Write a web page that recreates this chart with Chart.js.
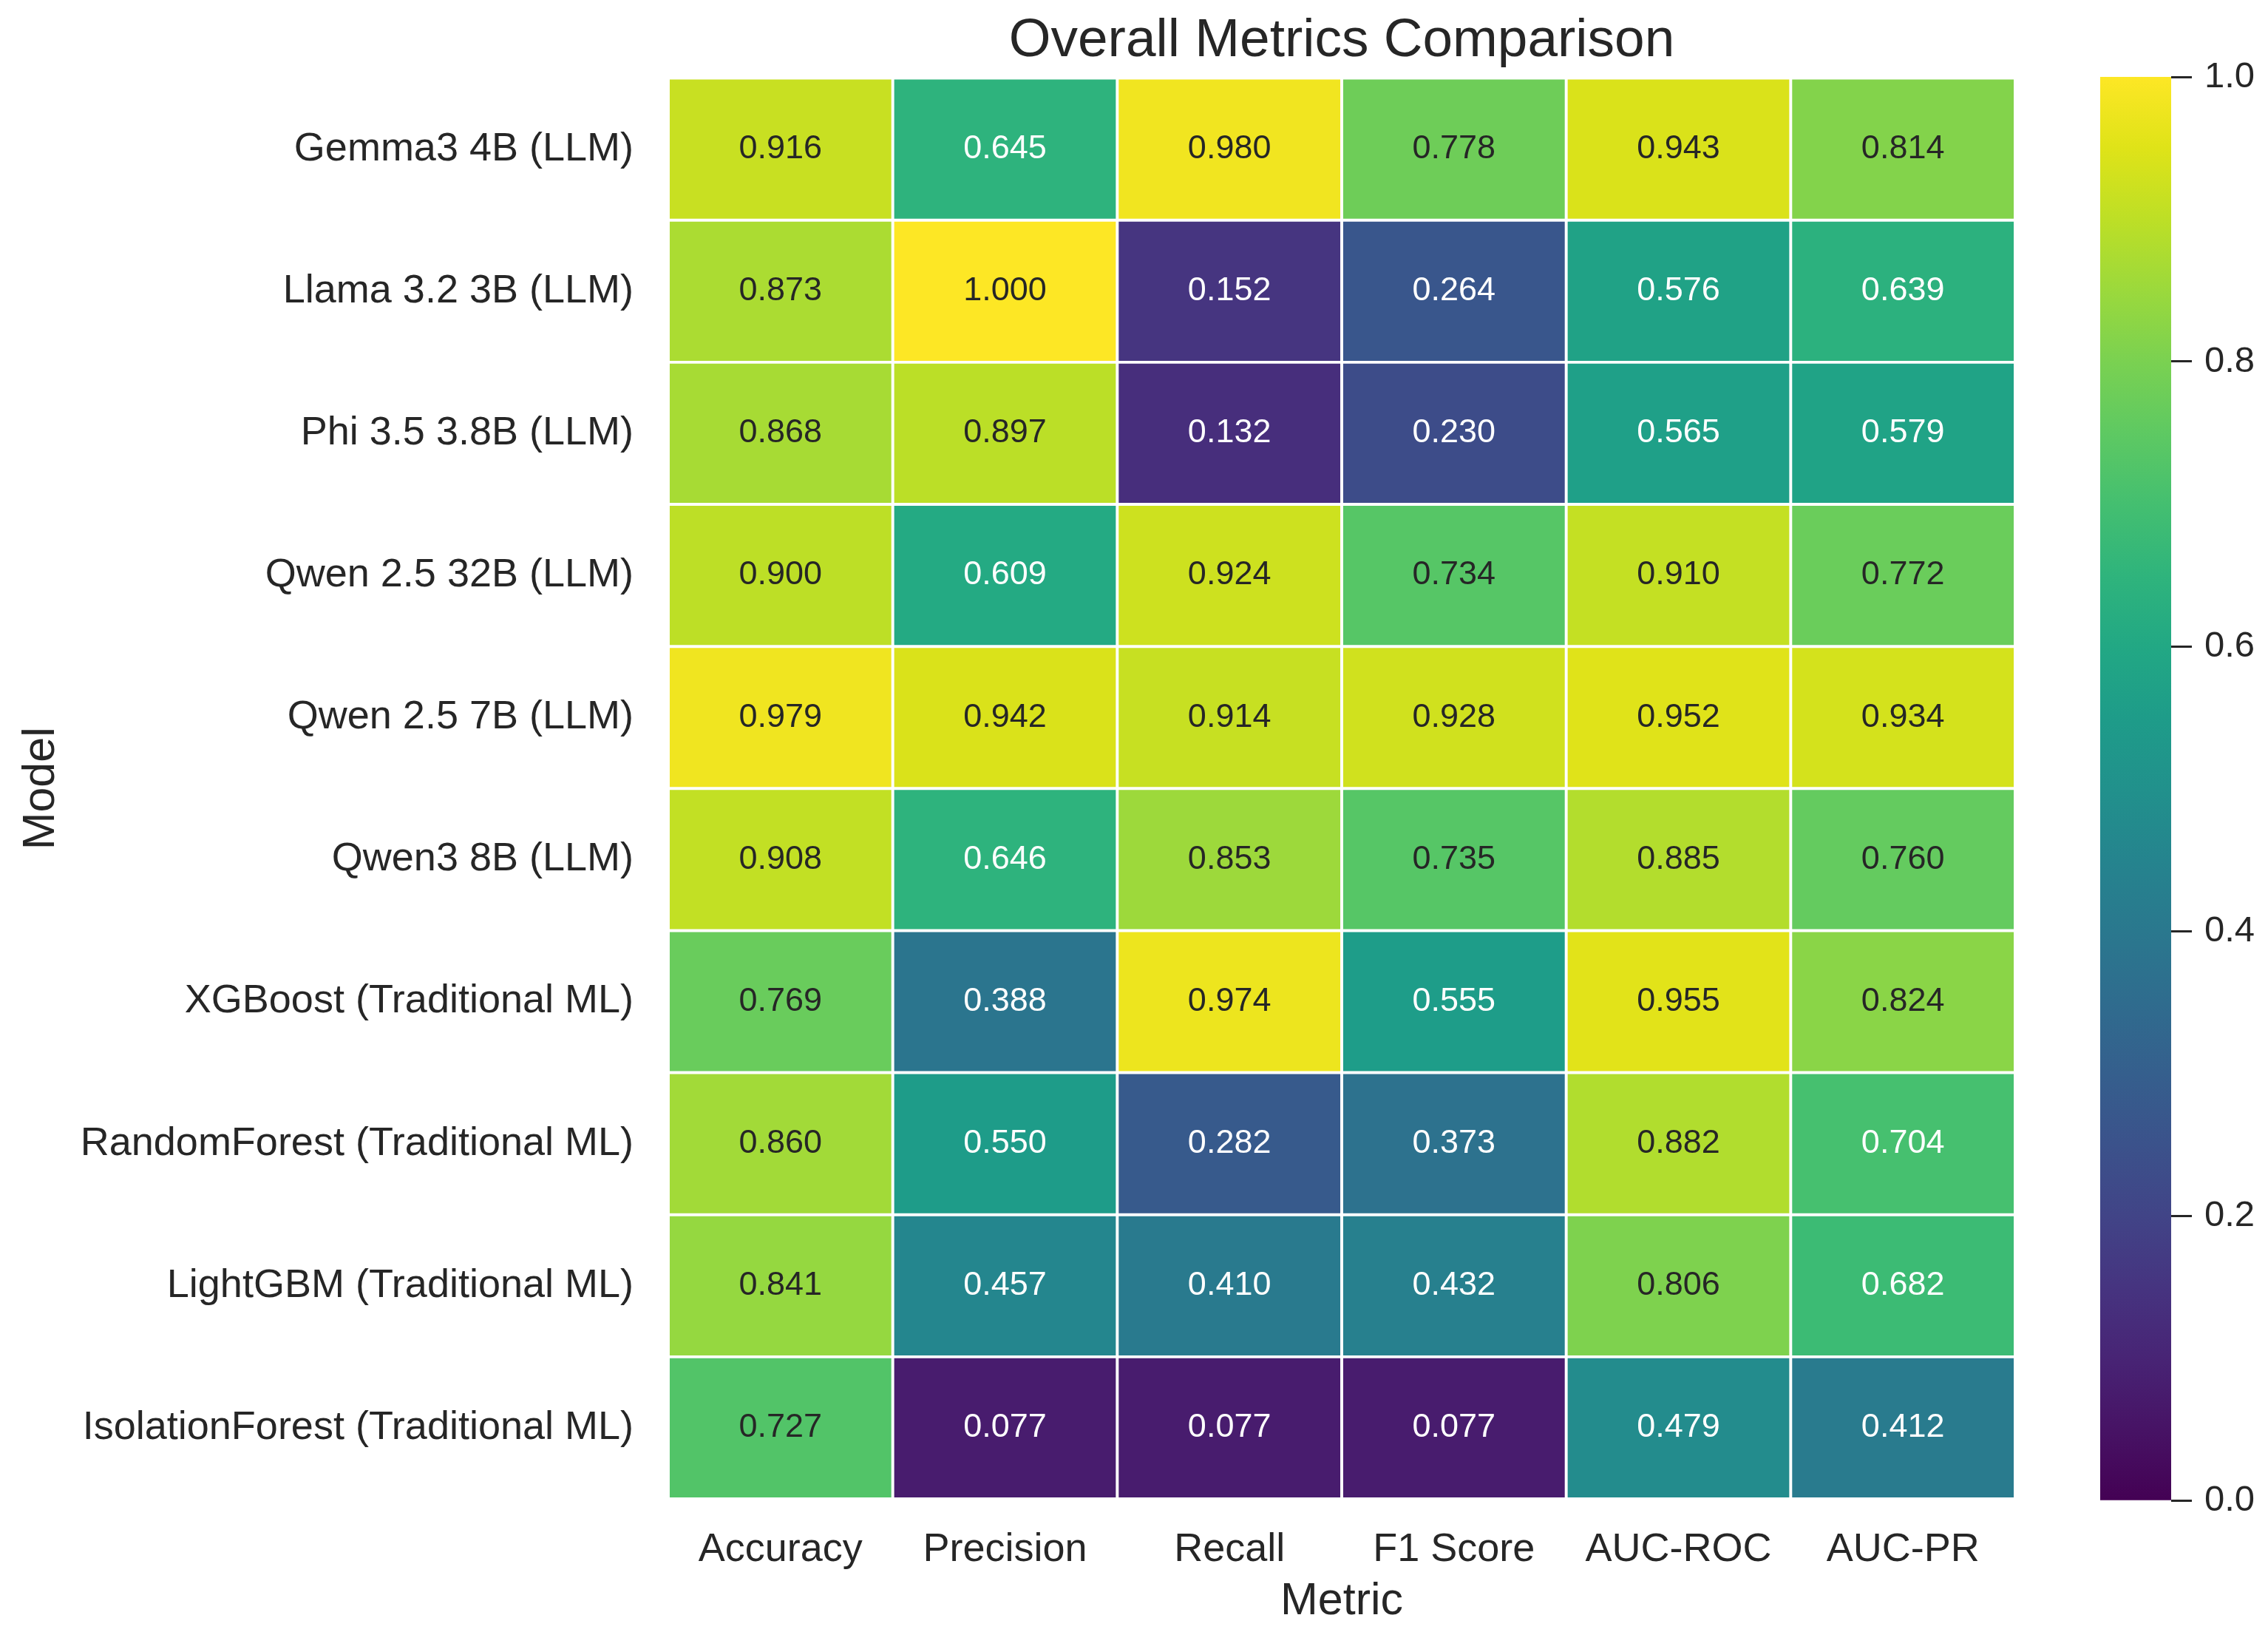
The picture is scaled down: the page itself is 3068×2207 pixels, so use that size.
<!DOCTYPE html>
<html>
<head>
<meta charset="utf-8">
<title>Overall Metrics Comparison</title>
<script src="https://cdn.jsdelivr.net/npm/chart.js@4.4.1/dist/chart.umd.min.js"></script>
<style>
  html, body { margin: 0; padding: 0; background: #ffffff; }
  #wrap { position: relative; width: 3068px; height: 2207px; }
  #heatmap { position: absolute; left: 0; top: 0; }
  #colorbar { position: absolute; left: 2760px; top: 0; }
</style>
</head>
<body>
<div id="wrap">
  <canvas id="heatmap" width="3068" height="2207"></canvas>
  <canvas id="colorbar" width="308" height="2207"></canvas>
</div>
<script>
// data
const models = [
  'Gemma3 4B (LLM)',
  'Llama 3.2 3B (LLM)',
  'Phi 3.5 3.8B (LLM)',
  'Qwen 2.5 32B (LLM)',
  'Qwen 2.5 7B (LLM)',
  'Qwen3 8B (LLM)',
  'XGBoost (Traditional ML)',
  'RandomForest (Traditional ML)',
  'LightGBM (Traditional ML)',
  'IsolationForest (Traditional ML)'
];
const metrics = ['Accuracy', 'Precision', 'Recall', 'F1 Score', 'AUC-ROC', 'AUC-PR'];

const accuracy  = [0.916, 0.873, 0.868, 0.900, 0.979, 0.908, 0.769, 0.860, 0.841, 0.727];
const precision = [0.645, 1.000, 0.897, 0.609, 0.942, 0.646, 0.388, 0.550, 0.457, 0.077];
const recall    = [0.980, 0.152, 0.132, 0.924, 0.914, 0.853, 0.974, 0.282, 0.410, 0.077];
const f1Score   = [0.778, 0.264, 0.230, 0.734, 0.928, 0.735, 0.555, 0.373, 0.432, 0.077];
const aucRoc    = [0.943, 0.576, 0.565, 0.910, 0.952, 0.885, 0.955, 0.882, 0.806, 0.479];
const aucPr     = [0.814, 0.639, 0.579, 0.772, 0.934, 0.760, 0.824, 0.704, 0.682, 0.412];

const colorbarTicks = [0.0, 0.2, 0.4, 0.6, 0.8, 1.0];

const metricValues = [accuracy, precision, recall, f1Score, aucRoc, aucPr];

// viridis colormap stops (every 0.05)
const viridisStops = [
  '#440154', '#471365', '#482475', '#463480', '#414487', '#3b528b', '#355f8d',
  '#2f6c8e', '#2a788e', '#25848e', '#21918c', '#1e9c89', '#22a884', '#2fb47c',
  '#44bf70', '#5ec962', '#7ad151', '#9bd93c', '#bddf26', '#dfe318', '#fde725'
];
const hexToRgb = h => [1, 3, 5].map(k => parseInt(h.substr(k, 2), 16));
const viridisRgb = viridisStops.map(hexToRgb);

function viridis(v) {
  const t = Math.min(1, Math.max(0, v)) * (viridisRgb.length - 1);
  const i = Math.min(viridisRgb.length - 2, Math.floor(t));
  const f = t - i;
  return viridisRgb[i].map((c, k) => Math.round(c + (viridisRgb[i + 1][k] - c) * f));
}
const rgbStr = c => 'rgb(' + c.join(',') + ')';

// same rule seaborn uses to pick the annotation colour
function textColor(v) {
  const lin = viridis(v).map(c => {
    c = c / 255;
    return c <= 0.03928 ? c / 12.92 : Math.pow((c + 0.055) / 1.055, 2.4);
  });
  const lum = 0.2126 * lin[0] + 0.7152 * lin[1] + 0.0722 * lin[2];
  return lum > 0.408 ? '#262626' : '#ffffff';
}

const FONT = '"Liberation Sans", Arial, Helvetica, sans-serif';
const INK = '#262626';
Chart.defaults.font.family = FONT;
Chart.defaults.color = INK;

const cellLabels = {
  id: 'cellLabels',
  afterDatasetsDraw(chart) {
    const ctx = chart.ctx;
    ctx.save();
    ctx.font = '45px ' + FONT;
    ctx.textAlign = 'center';
    ctx.textBaseline = 'middle';
    chart.data.datasets.forEach((ds, j) => {
      chart.getDatasetMeta(j).data.forEach((bar, i) => {
        const v = metricValues[j][i];
        const p = bar.getCenterPoint();
        ctx.fillStyle = textColor(v);
        ctx.fillText(v.toFixed(3), p.x, p.y);
      });
    });
    ctx.restore();
  }
};

new Chart(document.getElementById('heatmap'), {
  type: 'bar',
  data: {
    labels: models,
    datasets: metrics.map((m, j) => ({
      label: m,
      data: models.map(() => [j, j + 1]),
      backgroundColor: metricValues[j].map(v => rgbStr(viridis(v))),
      borderColor: '#ffffff',
      borderWidth: 2.3,
      borderSkipped: false,
      grouped: false,
      barPercentage: 1,
      categoryPercentage: 1
    }))
  },
  options: {
    indexAxis: 'y',
    responsive: false,
    animation: false,
    devicePixelRatio: 1,
    events: [],
    layout: { padding: { left: 0, right: 342, top: 0, bottom: 0 } },
    plugins: {
      legend: { display: false },
      tooltip: { enabled: false },
      title: {
        display: true,
        fullSize: false,
        text: 'Overall Metrics Comparison',
        color: INK,
        font: { size: 73, weight: 'normal' },
        padding: { top: 12, bottom: 6 }
      }
    },
    scales: {
      x: {
        type: 'linear',
        min: 0,
        max: metrics.length,
        grid: { display: false, drawTicks: false },
        border: { display: false },
        afterBuildTicks(scale) {
          scale.ticks = metrics.map((m, j) => ({ value: j + 0.5 }));
        },
        ticks: {
          autoSkip: false,
          maxRotation: 0,
          padding: 37,
          color: INK,
          font: { size: 54 },
          callback: (v, i) => metrics[i]
        },
        title: {
          display: true,
          text: 'Metric',
          color: INK,
          font: { size: 61 },
          padding: { top: 0, bottom: 4 }
        },
        afterFit(scale) { scale.height = 180; }
      },
      y: {
        type: 'category',
        grid: { display: false, drawTicks: false },
        border: { display: false },
        ticks: { padding: 47, color: INK, font: { size: 54 } },
        title: {
          display: true,
          text: 'Model',
          color: INK,
          font: { size: 61 },
          padding: { top: 20, bottom: 0 }
        },
        afterFit(scale) { scale.width = 904; }
      }
    }
  },
  plugins: [cellLabels]
});

// colorbar
new Chart(document.getElementById('colorbar'), {
  type: 'bar',
  data: {
    labels: [''],
    datasets: [{
      data: [[colorbarTicks[0], colorbarTicks[colorbarTicks.length - 1]]],
      backgroundColor(c) {
        const chart = c.chart;
        if (!chart.chartArea) return null;
        const y = chart.scales.y;
        const g = chart.ctx.createLinearGradient(0, y.getPixelForValue(0), 0, y.getPixelForValue(1));
        viridisStops.forEach((col, k) => g.addColorStop(k / (viridisStops.length - 1), col));
        return g;
      },
      borderWidth: 0,
      barPercentage: 1,
      categoryPercentage: 1
    }]
  },
  options: {
    responsive: false,
    animation: false,
    devicePixelRatio: 1,
    events: [],
    layout: { padding: { left: 81, right: 0, top: 104, bottom: 178 } },
    plugins: { legend: { display: false }, tooltip: { enabled: false } },
    scales: {
      x: { display: false },
      y: {
        position: 'right',
        min: 0,
        max: 1,
        afterBuildTicks(scale) {
          scale.ticks = colorbarTicks.map(v => ({ value: v }));
        },
        ticks: {
          padding: 17,
          color: INK,
          font: { size: 49 },
          callback: v => v.toFixed(1)
        },
        grid: {
          drawOnChartArea: false,
          drawTicks: true,
          tickLength: 28,
          tickWidth: 3,
          tickColor: INK
        },
        border: { display: false },
        afterFit(scale) { scale.width = 131; }
      }
    }
  }
});
</script>
</body>
</html>
